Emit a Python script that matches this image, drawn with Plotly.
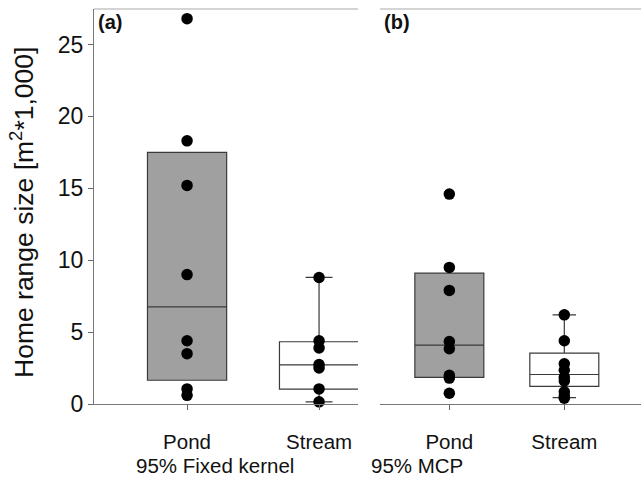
import plotly.graph_objects as go

# ---- data ----
categories = ["Pond", "Stream"]
panel_titles = ["95% Fixed kernel", "95% MCP"]
panel_tags = ["(a)", "(b)"]

kernel_pond = [26.8, 18.3, 15.2, 9.0, 4.4, 3.5, 1.05, 0.6]
kernel_stream = [8.8, 4.4, 3.9, 2.75, 2.5, 1.05, 0.15]
mcp_pond = [14.6, 9.5, 7.9, 4.35, 3.85, 2.0, 1.8, 0.75]
mcp_stream = [6.2, 4.4, 2.8, 2.35, 1.85, 1.6, 0.85, 0.55, 0.4]

# box statistics (q1, median, q3, lower whisker, upper whisker)
kernel_pond_box = [1.65, 6.75, 17.5, 1.65, 17.5]
kernel_stream_box = [1.03, 2.72, 4.33, 0.15, 8.8]
mcp_pond_box = [1.85, 4.1, 9.1, 1.85, 9.1]
mcp_stream_box = [1.22, 2.05, 3.54, 0.45, 6.2]

y_ticks = [0, 5, 10, 15, 20, 25]

# ---- figure ----
fig = go.Figure()

FONT = "Liberation Sans, Arial, sans-serif"
fills = ["#a0a0a0", "#ffffff"]

panels = [
    ("x", "y", [kernel_pond_box, kernel_stream_box], [kernel_pond, kernel_stream]),
    ("x2", "y2", [mcp_pond_box, mcp_stream_box], [mcp_pond, mcp_stream]),
]

for xa, ya, boxes, pts in panels:
    for i, (b, p) in enumerate(zip(boxes, pts)):
        fig.add_trace(go.Box(
            x=[i], q1=[b[0]], median=[b[1]], q3=[b[2]],
            lowerfence=[b[3]], upperfence=[b[4]],
            width=0.6, whiskerwidth=0.34, boxpoints=False,
            fillcolor=fills[i], line=dict(color="#3a3a3a", width=1.2),
            xaxis=xa, yaxis=ya, showlegend=False, hoverinfo="skip",
        ))
        fig.add_trace(go.Scatter(
            x=[i] * len(p), y=p, mode="markers",
            marker=dict(color="black", size=11.5),
            cliponaxis=False, xaxis=xa, yaxis=ya, showlegend=False,
        ))

W, H = 641, 487
ml, mr, mt, mb = 94, 0, 9, 83
pw = W - ml - mr
ph = H - mt - mb

def px_x(p):
    return (p - ml) / pw

def px_y(p):
    return (H - mb - p) / ph

left_dom = [0, px_x(358)]
right_dom = [px_x(380), 1]

axis_common = dict(
    tickmode="array", tickvals=[0, 1], ticktext=categories,
    ticks="outside", ticklen=5, tickcolor="#666666",
    showline=True, linecolor="#777777", linewidth=1.3,
    showgrid=False, zeroline=False,
    tickfont=dict(family=FONT, size=20.5, color="#111111"),
    ticklabelstandoff=14,
)

fig.update_layout(
    width=W, height=H,
    margin=dict(l=ml, r=mr, t=mt, b=mb),
    paper_bgcolor="white", plot_bgcolor="white",
    font=dict(family=FONT, color="#111111"),
    xaxis=dict(domain=left_dom, range=[-0.705, 1.295], anchor="y", **axis_common),
    xaxis2=dict(domain=right_dom, range=[-0.603, 1.667], anchor="y2", **axis_common),
    yaxis=dict(
        range=[0, 27.47], tickmode="array", tickvals=y_ticks,
        ticks="outside", ticklen=5, tickcolor="#666666",
        showline=True, linecolor="#777777", linewidth=1.3,
        showgrid=False, zeroline=False,
        tickfont=dict(family=FONT, size=23, color="#111111"),
        anchor="x",
    ),
    yaxis2=dict(
        range=[0, 27.47], showline=False, showticklabels=False,
        ticks="", showgrid=False, zeroline=False, anchor="x2",
    ),
)

# top border lines
for xr, yr in [("x domain", "y domain"), ("x2 domain", "y2 domain")]:
    fig.add_shape(type="line", xref=xr, yref=yr, x0=0, x1=1, y0=1, y1=1,
                  line=dict(color="#aaaaaa", width=1.2))

# y-axis title
fig.add_annotation(
    text="Home range size [m<sup>2</sup>*1,000]", textangle=-90,
    xref="paper", yref="paper", x=px_x(22), y=px_y(213), showarrow=False,
    xanchor="center", yanchor="middle",
    font=dict(family=FONT, size=26.5, color="#111111"),
)

# panel group titles
for txt, cx in zip(panel_titles, [215, 417]):
    fig.add_annotation(
        text=txt, xref="paper", yref="paper", x=px_x(cx), y=px_y(465),
        showarrow=False, xanchor="center", yanchor="middle",
        font=dict(family=FONT, size=20.5, color="#111111"),
    )

# panel tags
for txt, lx in zip(panel_tags, [96, 382]):
    fig.add_annotation(
        text="<b>" + txt + "</b>", xref="paper", yref="paper",
        x=px_x(lx), y=px_y(22), showarrow=False,
        xanchor="left", yanchor="middle",
        font=dict(family=FONT, size=20, color="#111111"),
    )

fig.write_html("out.html")
